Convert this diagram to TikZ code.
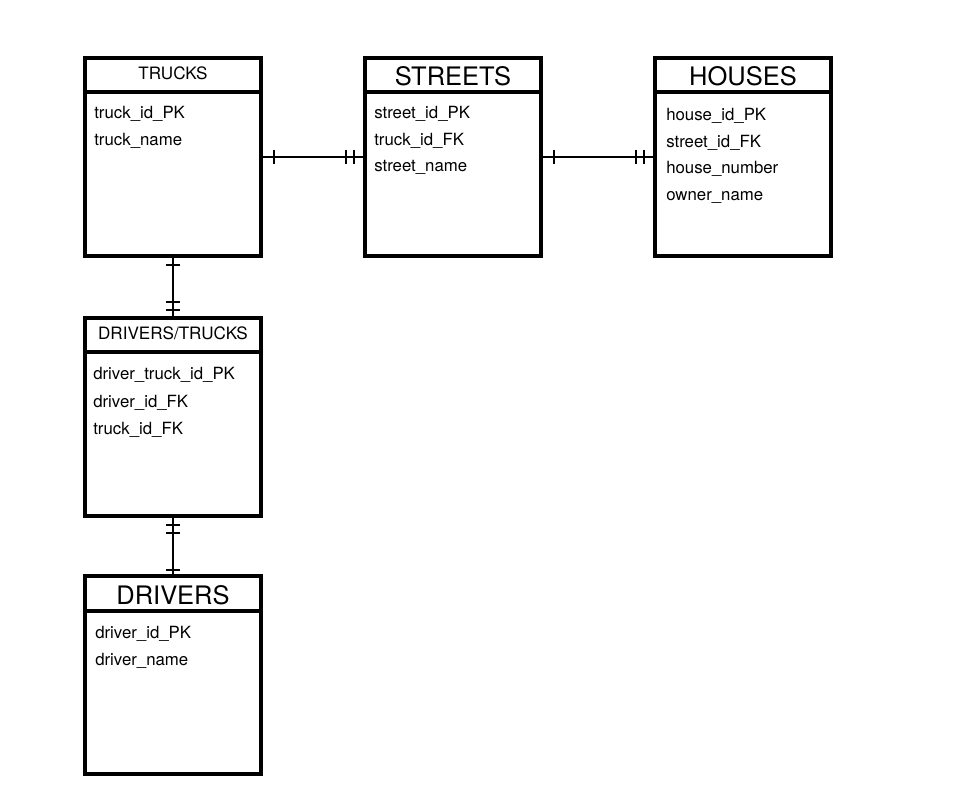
\documentclass[tikz,border=0pt]{standalone}
\usepackage{fontspec}
\setmainfont{TeX Gyre Heros}
\usetikzlibrary{decorations.markings}

\tikzset{
  entity/.style={draw,line width=2.6pt,minimum width=132pt,minimum height=148.5pt,anchor=north west,inner sep=0pt,outer sep=0pt},
  field/.style={anchor=base west,inner sep=0pt,font=\fontsize{12.6}{14}\selectfont},
  smalltitle/.style={anchor=base,inner sep=0pt,font=\fontsize{12.8}{14}\selectfont},
  bigtitle/.style={anchor=base,inner sep=0pt,font=\fontsize{19.1}{21}\selectfont},
  rel/.style={line width=1.8pt},
  bar/.style={postaction={decorate,decoration={markings,
      mark=at position #1 with {\draw[line width=1.8pt] (0,-4.9pt) -- (0,4.9pt);}}}}
}

\begin{document}
\begin{tikzpicture}[x=0.75pt,y=-0.75pt]
	\useasboundingbox (0,0) rectangle (953,800);
	% tables
	\node[entity] (trucks) at (85,58) {};
	\node[entity] (streets) at (365,58) {};
	\node[entity] (houses) at (655,58) {};
	\node[entity] (drvtrk) at (85,318) {};
	\node[entity] (drivers) at (85,576) {};
	\foreach \t in {trucks,streets,houses,drvtrk}
		\draw[line width=2.6pt] (\t.north west) ++(0,34) -- ++(176,0);
	\draw[line width=2.6pt] (drivers.north west) ++(0,35) -- ++(176,0);
	
	% titles
	\node[smalltitle] (trucks-title) at (173,79) {TRUCKS};
	\node[bigtitle] (streets-title) at (453,85) {STREETS};
	\node[bigtitle] (houses-title) at (743,85) {HOUSES};
	\node[smalltitle] (drvtrk-title) at (173,339) {DRIVERS/TRUCKS};
	\node[bigtitle] (drivers-title) at (173,604) {DRIVERS};
	
	% fields
	\foreach \f [count=\i] in {truck\_id\_PK,truck\_name}
		\node[field] (trucks-\i) at (94,92+26.5*\i) {\f};
	\foreach \f [count=\i] in {street\_id\_PK,truck\_id\_FK,street\_name}
		\node[field] (streets-\i) at (374,92+26.5*\i) {\f};
	\foreach \f [count=\i] in {house\_id\_PK,street\_id\_FK,house\_number,owner\_name}
		\node[field] (houses-\i) at (666,94+26.5*\i) {\f};
	\foreach \f [count=\i] in {driver\_truck\_id\_PK,driver\_id\_FK,truck\_id\_FK}
		\node[field] (drvtrk-\i) at (93,352+27.5*\i) {\f};
	\foreach \f [count=\i] in {driver\_id\_PK,driver\_name}
		\node[field] (drivers-\i) at (95,611.5+27*\i) {\f};
	
	% relations
	\draw[rel,bar=9.75pt,bar=-14.25pt,bar=-8.25pt] (trucks.east) -- (streets.west);
	\draw[rel,bar=9.75pt,bar=-14.25pt,bar=-8.25pt] (streets.east) -- (houses.west);
	\draw[rel,bar=6.75pt,bar=-12pt,bar=-6pt] (trucks.south) -- (drvtrk.north);
	\draw[rel,bar=6.75pt,bar=12.75pt,bar=-4.5pt] (drvtrk.south) -- (drivers.north);
\end{tikzpicture}
\end{document}
